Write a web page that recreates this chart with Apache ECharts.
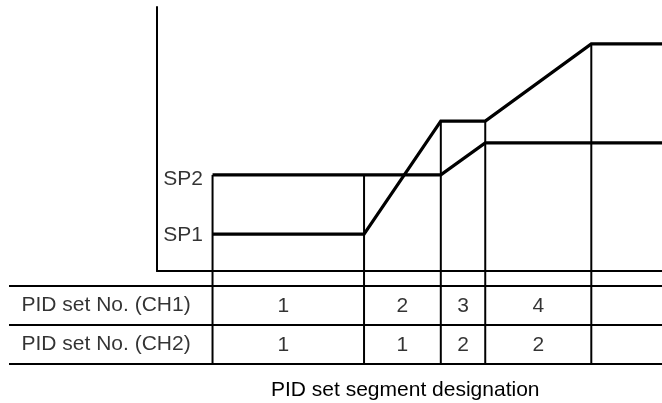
<!DOCTYPE html>
<html><head><meta charset="utf-8">
<script src="https://cdn.jsdelivr.net/npm/echarts@6/dist/echarts.min.js"></script>
<style>html,body{margin:0;padding:0;background:#fff}#c{width:662px;height:403px}</style>
</head><body><div id="c"></div>
<script>
// time points of the setpoint programs (arbitrary time units)
const times = [11, 41, 56.2, 65, 86, 100];
// CH1 and CH2 setpoint profiles (arbitrary SV units)
const ch1Values = [14, 14, 56.8, 56.8, 86, 86];
const ch2Values = [36.4, 36.4, 36.4, 48.5, 48.5, 48.5];
const spLabels = ['SP1', 'SP2'];
// segment boundaries
const boundaries = [11, 41, 56.2, 65, 86];
// table
const rowNames = ['PID set No. (CH1)', 'PID set No. (CH2)'];
const rowValues = [1.5, 0.5];
const rowLines = [0, 1, 2];
const ch1Pid = [1, 2, 3, 4];
const ch2Pid = [1, 1, 2, 2];
const segmentTitle = 'PID set segment designation';

const FONT = 'Liberation Sans, Arial, Helvetica, sans-serif';
const FS = 21;
const black = '#000';

const cells = [];
[ch1Pid, ch2Pid].forEach((arr, r) => {
  arr.forEach((v, i) => {
    const item = { value: [(boundaries[i] + boundaries[i + 1]) / 2, rowValues[r], v] };
    if (i === 0) item.label = { offset: [-5, 1] };
    cells.push(item);
  });
});

const chart = echarts.init(document.getElementById('c'), null, { renderer: 'canvas' });
chart.setOption({
  backgroundColor: '#fff',
  animation: false,
  title: {
    text: segmentTitle, left: 271, top: 380,
    textStyle: { fontFamily: FONT, fontSize: FS, fontWeight: 'normal', color: black, lineHeight: 21 },
    padding: 0
  },
  grid: [
    { left: 157, right: 0, top: 7, bottom: 132 },
    { left: 9, right: 0, top: 271, bottom: 39 }
  ],
  xAxis: [
    { type: 'value', gridIndex: 0, min: 0, max: 100,
      axisLine: { show: true, onZero: false, lineStyle: { color: black, width: 2 } },
      axisTick: { show: false }, axisLabel: { show: false }, splitLine: { show: false } },
    { type: 'value', gridIndex: 1, min: -29.3, max: 100, show: false }
  ],
  yAxis: [
    { type: 'value', gridIndex: 0, min: 0, max: 100,
      axisLine: { show: true, onZero: false, lineStyle: { color: black, width: 2 } },
      axisTick: { show: false }, axisLabel: { show: false }, splitLine: { show: false } },
    { type: 'value', gridIndex: 1, min: 0, max: 2.385, show: false }
  ],
  series: [
    { // segment boundary verticals in chart area
      type: 'custom', xAxisIndex: 0, yAxisIndex: 0, silent: true,
      data: boundaries.map(t => { const i = times.indexOf(t); return [t, Math.max(ch1Values[i], ch2Values[i])]; }),
      renderItem: (params, api) => {
        const p1 = api.coord([api.value(0), api.value(1)]);
        const p2 = api.coord([api.value(0), 0]);
        return { type: 'line', shape: { x1: p1[0], y1: p1[1], x2: p2[0], y2: p2[1] },
          style: { stroke: black, lineWidth: 2 } };
      }
    },
    {
      type: 'line', name: 'CH1', xAxisIndex: 0, yAxisIndex: 0, symbol: 'none',
      data: times.map((t, i) => [t, ch1Values[i]]),
      lineStyle: { color: black, width: 3.2, join: 'miter' }, z: 3
    },
    {
      type: 'line', name: 'CH2', xAxisIndex: 0, yAxisIndex: 0, symbol: 'none',
      data: times.map((t, i) => [t, ch2Values[i]]),
      lineStyle: { color: black, width: 3.2, join: 'miter' }, z: 3
    },
    { // SP labels
      type: 'scatter', xAxisIndex: 0, yAxisIndex: 0, symbolSize: 1,
      itemStyle: { color: 'rgba(0,0,0,0)' }, silent: true,
      data: [
        { value: [times[0], ch1Values[0]], name: spLabels[0], label: { offset: [0, 1] } },
        { value: [times[0], ch2Values[0]], name: spLabels[1], label: { offset: [0, 4] } }
      ],
      label: { show: true, position: 'left', distance: 9, formatter: p => p.name,
        fontFamily: FONT, fontSize: FS, color: black }
    },
    { // table horizontal lines
      type: 'custom', xAxisIndex: 1, yAxisIndex: 1, silent: true,
      data: rowLines.map(v => [v]),
      renderItem: (params, api) => {
        const cs = params.coordSys;
        const y = api.coord([0, api.value(0)])[1];
        return { type: 'line', shape: { x1: cs.x, y1: y, x2: cs.x + cs.width, y2: y },
          style: { stroke: black, lineWidth: 2 } };
      }
    },
    { // table vertical lines
      type: 'custom', xAxisIndex: 1, yAxisIndex: 1, silent: true,
      data: boundaries.map(t => [t]),
      renderItem: (params, api) => {
        const cs = params.coordSys;
        const x = api.coord([api.value(0), 0])[0];
        return { type: 'line', shape: { x1: x, y1: cs.y, x2: x, y2: cs.y + cs.height },
          style: { stroke: black, lineWidth: 2 } };
      }
    },
    { // row labels
      type: 'scatter', xAxisIndex: 1, yAxisIndex: 1, symbolSize: 1,
      itemStyle: { color: 'rgba(0,0,0,0)' }, silent: true,
      data: rowNames.map((n, r) => ({ value: [-29.3, rowValues[r]], name: n })),
      label: { show: true, position: 'right', distance: 12, formatter: p => p.name,
        fontFamily: FONT, fontSize: FS, color: black }
    },
    { // cell values
      type: 'scatter', xAxisIndex: 1, yAxisIndex: 1, symbolSize: 1,
      itemStyle: { color: 'rgba(0,0,0,0)' }, silent: true,
      data: cells,
      label: { show: true, position: 'inside', formatter: p => String(p.value[2]),
        fontFamily: FONT, fontSize: FS, color: black, offset: [0, 1] }
    }
  ]
});
</script></body></html>
